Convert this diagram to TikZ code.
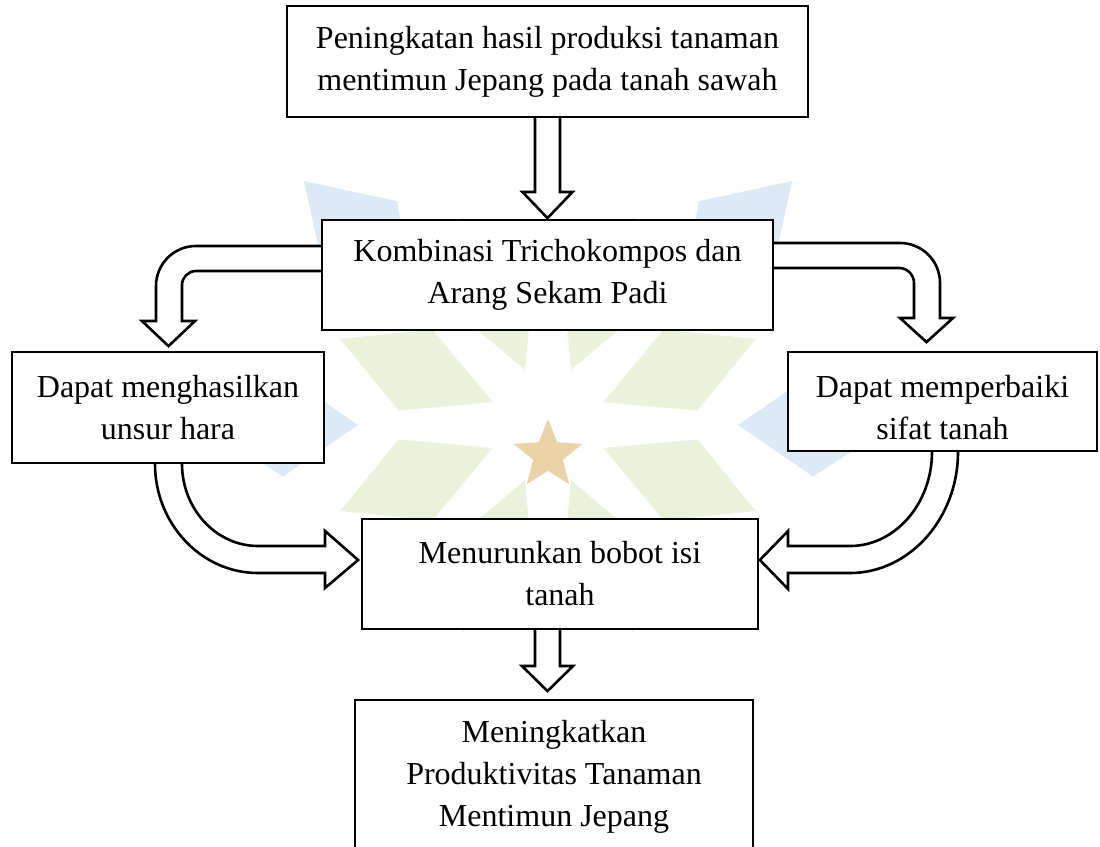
\documentclass[tikz,border=0pt]{standalone}
\usepackage{fontspec}
\setmainfont{Liberation Serif}
\usetikzlibrary{calc,shapes.geometric}
\pgfdeclarelayer{bg}
\pgfdeclarelayer{wm}
\pgfsetlayers{wm,bg,main}
\definecolor{wmgold}{HTML}{E8D2A6}
\definecolor{wmblue}{HTML}{DCE9F6}
\definecolor{wmgreen}{HTML}{EAF2DA}
\tikzset{
  box/.style={draw, line width=1.8pt, fill=white, inner sep=0pt, align=center,
     font=\fontsize{32}{42}\selectfont},
  barrow/.style={draw, line width=2.6pt, fill=white, line join=miter},
}
\begin{document}
\begin{tikzpicture}[x=1pt,y=-1pt]
\useasboundingbox (0,0) rectangle (1100,846);
\clip (0,0) rectangle (1100,846);

\node[box, minimum width=521pt, minimum height=111pt] (b1) at (547.5,61.5)
  {Peningkatan hasil produksi tanaman\\mentimun Jepang pada tanah sawah};
\node[box, minimum width=451pt, minimum height=110pt] (b2) at (547.5,275)
  {Kombinasi Trichokompos dan\\Arang Sekam Padi};
\node[box, minimum width=312pt, minimum height=111pt] (b3) at (168,407.5)
  {Dapat menghasilkan\\unsur hara};
\node[box, minimum width=309pt, minimum height=99pt] (b4) at (942.5,401.5)
  {\rule{0pt}{34pt}Dapat memperbaiki\\sifat tanah};
\node[box, minimum width=396pt, minimum height=110pt] (b5) at (560,574)
  {Menurunkan bobot isi\\tanah};
\node[box, minimum width=398pt, minimum height=154pt] (b6) at (554,777)
  {Meningkatkan\\Produktivitas Tanaman\\Mentimun Jepang};

\coordinate (t2) at ($(b2.north)+(0,-1)$);
\coordinate (t3) at ($(b3.north)+(0.5,-5)$);
\coordinate (t4) at ($(b4.north)+(-16,-9)$);
\coordinate (t5l) at ($(b5.west)+(-3,-14)$);
\coordinate (t5r) at ($(b5.east)+(1,-14)$);
\coordinate (t6) at ($(b6.north)+(-6.5,-8)$);

% faint watermark (emblem behind the diagram)
\begin{pgfonlayer}{wm}
\fill[white] (0,0) rectangle (1100,846);
\begin{scope}[shift={(548,425)}]
  \foreach \a in {0,-45,-135,180}
    \fill[wmblue] (\a:190) -- (\a+11:270) -- (\a:345) -- (\a-11:270) -- cycle;
  \foreach \a in {22.5,67.5,...,337.5}
    \fill[wmgreen] (\a:60) -- (\a+17:150) -- (\a:225) -- (\a-17:150) -- cycle;
\end{scope}
\node[star, star points=5, star point ratio=2.3, minimum size=72pt, fill=wmgold, inner sep=0pt] (wstar) at (548,455) {};
\end{pgfonlayer}

\begin{pgfonlayer}{bg}
% b1 -> b2
\draw[barrow] (535,0 |- b1.south) -- (535,192) -- (522.5,192) -- (t2)
  -- (572.5,192) -- (560,192) -- (560,0 |- b1.south);
% b2 -> b3
\draw[barrow] (b2.west |- 0,246) -- (196,246)
  .. controls (173.9,246) and (156,263.9) .. (156,286) -- (156,321) -- (142,321)
  -- (t3) -- (195,321) -- (182,321) -- (182,285)
  .. controls (182,277.3) and (188.3,271) .. (196,271) -- (b2.west |- 0,271);
% b2 -> b4
\draw[barrow] (b2.east |- 0,243) -- (900,243)
  .. controls (922.1,243) and (940,260.9) .. (940,283) -- (940,318) -- (953,318)
  -- (t4) -- (900,318) -- (914,318) -- (914,283)
  .. controls (914,274.7) and (907.3,268) .. (899,268) -- (b2.east |- 0,268);
% b3 -> b5
\draw[barrow] (155,0 |- b3.south)
  .. controls (155,523.7) and (201.1,573) .. (258,573) -- (325,573) -- (325,588)
  -- (t5l) -- (325,531) -- (325,546) -- (258,546)
  .. controls (216,546) and (182,508.8) .. (182,0 |- b3.south);
% b4 -> b5
\draw[barrow] (932,0 |- b4.south)
  .. controls (932,503.4) and (895.3,546) .. (850,546) -- (788,546) -- (788,531)
  -- (t5r) -- (788,589) -- (788,573) -- (850,573)
  .. controls (909.6,573) and (958,518.3) .. (958,0 |- b4.south);
% b5 -> b6
\draw[barrow] (535,0 |- b5.south) -- (535,666) -- (522,666) -- (t6)
  -- (573,666) -- (560,666) -- (560,0 |- b5.south);
\end{pgfonlayer}
\end{tikzpicture}
\end{document}
